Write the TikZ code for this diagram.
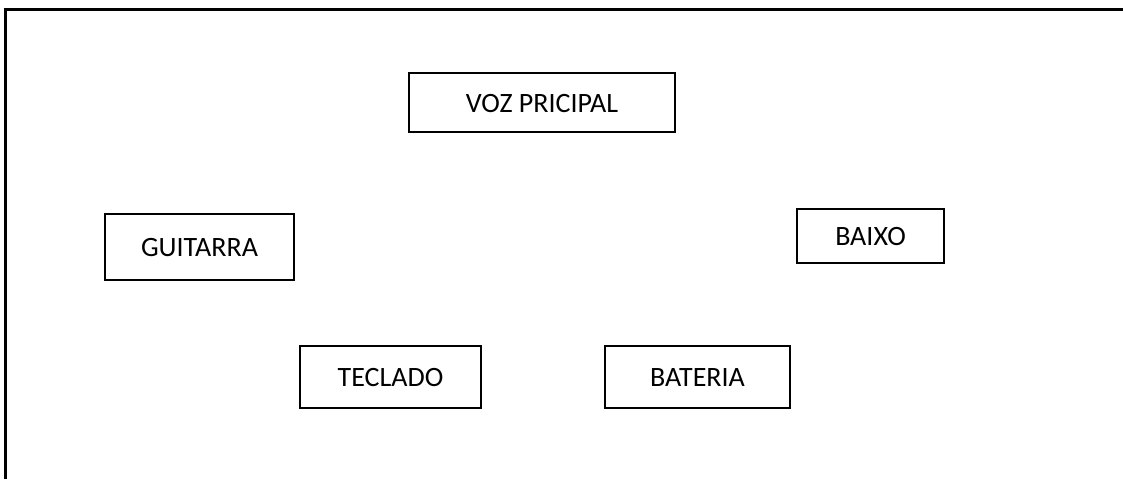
\documentclass[tikz,border=0pt]{standalone}
\usepackage{fontspec}
\setmainfont{Carlito}
\begin{document}
\begin{tikzpicture}[x=0.5pt,y=-0.5pt]
	\fontsize{14}{16}\selectfont
	\tikzset{
		part/.style={draw=black, line width=0.9pt, fill=white, inner sep=0pt, text height=1.45ex, text depth=0ex},
		frame/.style={draw=black, line width=1.5pt},
	}
	\useasboundingbox (0,0) rectangle (1123,479);

	% Open frame: top edge and left edge only.
	\coordinate (tr) at (1123,9);
	\coordinate (tl) at (5,9);
	\coordinate (bl) at (5,479);
	\draw[frame] (tr) -- (tl) -- (bl);

	% The instrument boxes.
	\node[part, minimum width=133pt, minimum height=29.5pt] (voz) at (542,102.5) {VOZ PRICIPAL};
	\node[part, minimum width=94.5pt, minimum height=33pt] (guitarra) at (199.5,247) {GUITARRA};
	\node[part, minimum width=73.5pt, minimum height=27pt] (baixo) at (870.5,236) {BAIXO};
	\node[part, minimum width=90.5pt, minimum height=31pt] (teclado) at (390.5,377) {TECLADO};
	\node[part, minimum width=92.5pt, minimum height=31pt] (bateria) at (697.5,377) {BATERIA};
\end{tikzpicture}
\end{document}
